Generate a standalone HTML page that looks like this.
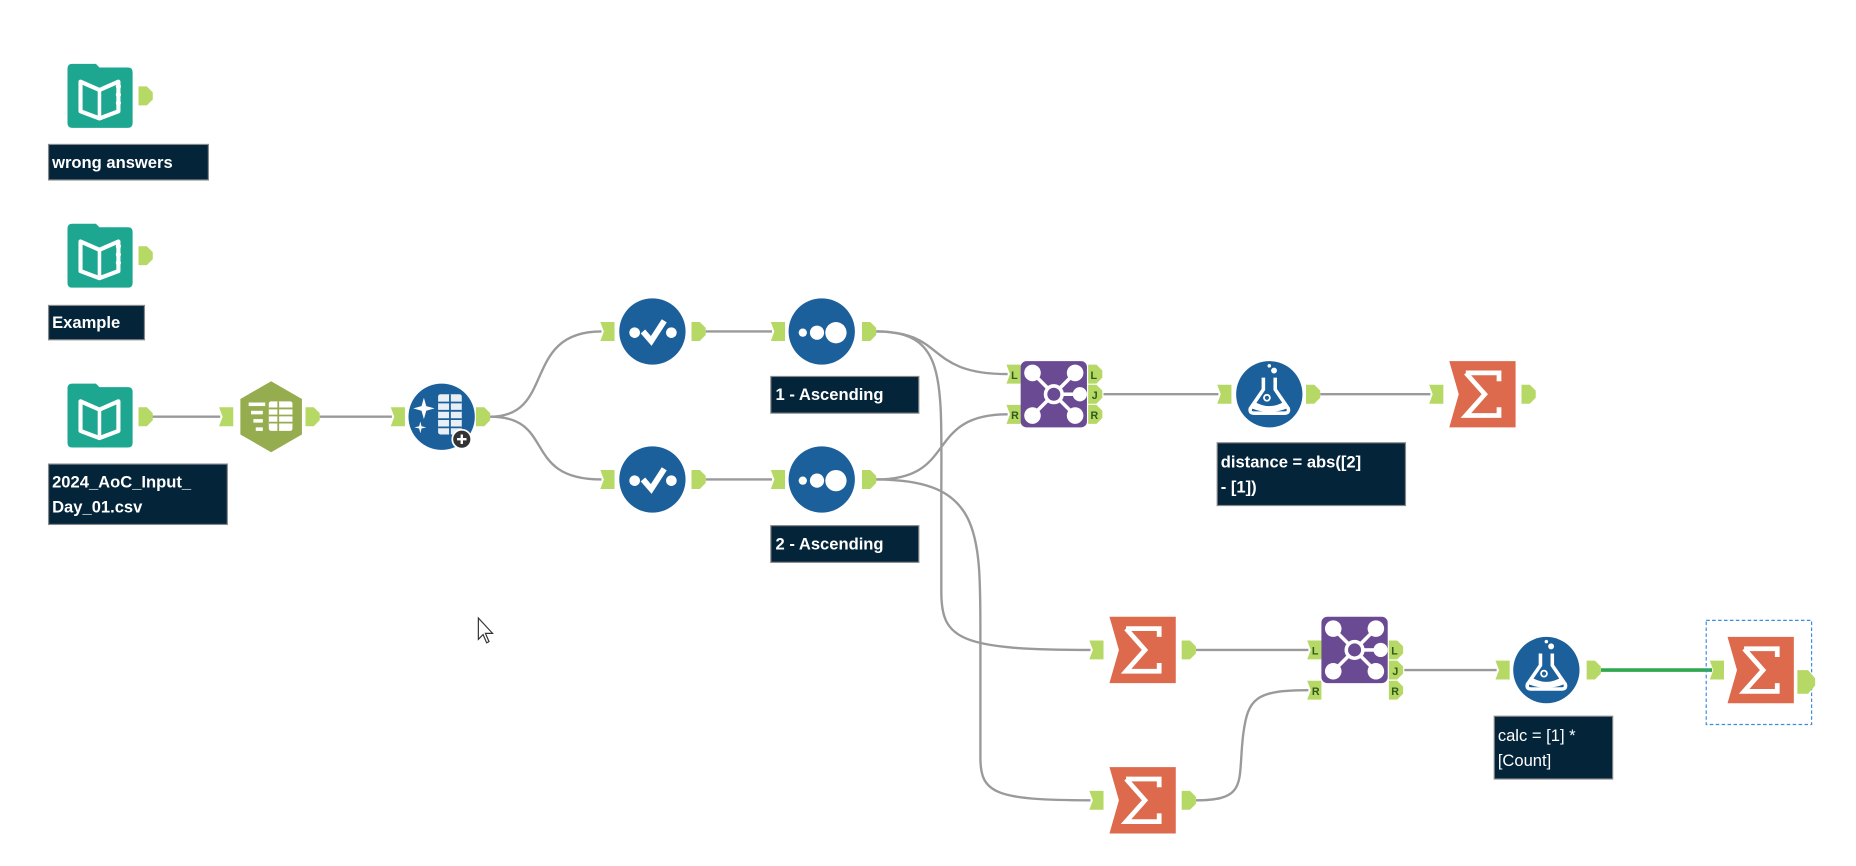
<!DOCTYPE html>
<html><head><meta charset="utf-8">
<style>
html,body{margin:0;padding:0;background:#fff;width:1856px;height:866px;overflow:hidden}
svg{display:block}
text{font-family:"Liberation Sans",sans-serif}
.lbl{font-weight:bold;font-size:14px;fill:#fff}
.an{font-weight:bold;font-size:9px;fill:#2e5a1a}
</style></head><body>
<svg width="1856" height="866" viewBox="0 0 1567.5 731.5" preserveAspectRatio="none" xmlns="http://www.w3.org/2000/svg">
<defs>
  <g id="ain"><path d="M0,-8 H12 V8 H0 L3,0 Z" fill="#b6d865"/></g>
  <g id="aout"><path d="M0,-8 H7 L12,-3 V3 L7,8 H0 Z" fill="#b6d865"/></g>
  <g id="book">
    <path d="M0,4 Q0,0 4,0 H24 L27,3 H51 Q55,3 55,7 V50 Q55,54 51,54 H4 Q0,54 0,50 Z" fill="#1ea790"/>
    <path d="M11,15 L27,22 L43,15 V40 L27,46 L11,40 Z" fill="none" stroke="#fff" stroke-width="3.5" stroke-linejoin="round"/>
    <line x1="27" y1="22" x2="27" y2="44" stroke="#fff" stroke-width="3"/>
  </g>
  <g id="sum">
    <path d="M0,0 H56 V56 H0 L8,28 Z" fill="#dd6a4c"/>
    <path d="M14,10 H42 V17 M14,10 L30,28 L14,46 H42 V39" fill="none" stroke="#fff" stroke-width="4"/>
  </g>
  <g id="join">
    <rect x="0" y="0" width="56" height="56" rx="5" fill="#6b4a94"/>
    <g stroke="#fff" stroke-width="3" fill="none">
      <circle cx="28" cy="28" r="7"/>
      <line x1="12" y1="12" x2="23" y2="23"/><line x1="44" y1="12" x2="33" y2="23"/>
      <line x1="12" y1="44" x2="23" y2="33"/><line x1="44" y1="44" x2="33" y2="33"/>
      <line x1="35" y1="28" x2="48" y2="28"/>
    </g>
    <g fill="#fff"><circle cx="10" cy="10" r="7"/><circle cx="46" cy="10" r="7"/><circle cx="10" cy="46" r="7"/><circle cx="46" cy="46" r="7"/><circle cx="50" cy="28" r="6"/></g>
  </g>
  <g id="flask">
    <circle cx="0" cy="0" r="28" fill="#1b5f9b"/>
    <path d="M-5,-14 V-4 L-16,12 Q-17,16 -13,16 H13 Q17,16 16,12 L5,-4 V-14" fill="none" stroke="#fff" stroke-width="3"/>
    <path d="M-13,6 Q0,14 13,6 L15,12 Q0,18 -15,12 Z" fill="#fff"/>
    <circle cx="-2" cy="3" r="2.5" fill="none" stroke="#fff" stroke-width="1.5"/>
    <circle cx="4" cy="-20" r="2.5" fill="#fff"/><circle cx="0" cy="-24" r="1.5" fill="#fff"/>
  </g>
  <g id="select">
    <circle cx="0" cy="0" r="28" fill="#1b5f9b"/>
    <circle cx="-15" cy="1" r="4.5" fill="#fff"/><circle cx="16" cy="1" r="4.5" fill="#fff"/>
    <path d="M-8,0 L-1,8 L10,-9" fill="none" stroke="#fff" stroke-width="5"/>
  </g>
  <g id="sort">
    <circle cx="0" cy="0" r="28" fill="#1b5f9b"/>
    <circle cx="-16" cy="1" r="3.5" fill="#fff"/><circle cx="-4" cy="1" r="6" fill="#fff"/><circle cx="12" cy="1" r="9" fill="#fff"/>
  </g>
</defs>

<g fill="none" stroke="#9a9a9a" stroke-width="2">
  <line x1="128" y1="352" x2="186" y2="352"/>
  <line x1="270" y1="352" x2="331" y2="352"/>
  <path d="M414,352 C470,352 440,280 508,280"/>
  <path d="M414,352 C470,352 440,405 508,405"/>
  <line x1="596" y1="280" x2="652" y2="280"/>
  <line x1="596" y1="405" x2="652" y2="405"/>
  <path d="M740,280 C800,280 780,316 851,316"/>
  <path d="M740,405 C810,405 780,350 851,350"/>
  <path d="M740,280 C800,280 795,320 795,420 L795,500 C795,540 810,549 921,549"/>
  <path d="M740,405 C830,405 828,450 828,540 L828,640 C828,670 840,676 921,676"/>
  <line x1="932" y1="333" x2="1029" y2="333"/>
  <line x1="1115" y1="333" x2="1208" y2="333"/>
  <line x1="1010" y1="549" x2="1105" y2="549"/>
  <path d="M1010,676 C1055,676 1045,660 1050,620 C1054,590 1060,583 1105,583"/>
  <line x1="1186" y1="566" x2="1264" y2="566"/>
</g>
<line x1="1352" y1="566" x2="1446" y2="566" stroke="#2fa84f" stroke-width="3"/>

<use href="#book" x="57" y="54"/><use href="#aout" x="117" y="81"/>
<use href="#book" x="57" y="189"/><use href="#aout" x="117" y="216"/>
<use href="#book" x="57" y="324"/><use href="#aout" x="117" y="352"/>
<g fill="#fff"><circle cx="100" cy="73" r="2.2"/><circle cx="100" cy="80" r="2.2"/><circle cx="100" cy="87" r="2.2"/>
<circle cx="100" cy="208" r="2.2"/><circle cx="100" cy="215" r="2.2"/><circle cx="100" cy="222" r="2.2"/></g>

<rect x="41" y="122" width="135" height="30" fill="#04243a" stroke="#888"/>
<text class="lbl" x="44" y="142">wrong answers</text>
<rect x="41" y="258" width="81" height="29" fill="#04243a" stroke="#888"/>
<text class="lbl" x="44" y="277">Example</text>
<rect x="41" y="392" width="151" height="51" fill="#04243a" stroke="#888"/>
<text class="lbl" x="44" y="412">2024_AoC_Input_</text>
<text class="lbl" x="44" y="433">Day_01.csv</text>

<use href="#ain" x="185" y="352"/>
<polygon points="229,322 255,337 255,367 229,382 203,367 203,337" fill="#96ad4f"/>
<g fill="#fff"><rect x="210" y="340" width="14" height="3"/><rect x="212" y="347" width="10" height="3"/><rect x="214" y="354" width="8" height="3"/><rect x="216" y="361" width="6" height="3"/>
<rect x="227" y="339" width="20" height="25" rx="2"/></g>
<g stroke="#96ad4f" stroke-width="1.5"><line x1="227" y1="345" x2="247" y2="345"/><line x1="227" y1="351" x2="247" y2="351"/><line x1="227" y1="357" x2="247" y2="357"/><line x1="235" y1="339" x2="235" y2="364"/></g>
<use href="#aout" x="258" y="352"/>

<use href="#ain" x="330" y="352"/>
<circle cx="373" cy="352" r="28" fill="#1b5f9b"/>
<g fill="#fff"><rect x="370" y="333" width="20" height="34" rx="2" opacity="0.9"/></g>
<g stroke="#1b5f9b" stroke-width="1.5"><line x1="370" y1="340" x2="390" y2="340"/><line x1="370" y1="347" x2="390" y2="347"/><line x1="370" y1="354" x2="390" y2="354"/><line x1="370" y1="361" x2="390" y2="361"/><line x1="380" y1="333" x2="380" y2="367"/></g>
<path d="M358,336 L360,343 L367,345 L360,347 L358,354 L356,347 L349,345 L356,343 Z" fill="#fff"/>
<path d="M355,356 L356,360 L360,361 L356,362 L355,366 L354,362 L350,361 L354,360 Z" fill="#fff"/>
<circle cx="390" cy="371" r="8" fill="#333" stroke="#fff" stroke-width="1.5"/>
<path d="M386,371 H394 M390,367 V375" stroke="#fff" stroke-width="2"/>
<use href="#aout" x="402" y="352"/>

<use href="#ain" x="507" y="280"/><use href="#select" x="551" y="280"/><use href="#aout" x="584" y="280"/>
<use href="#ain" x="507" y="405"/><use href="#select" x="551" y="405"/><use href="#aout" x="584" y="405"/>
<use href="#ain" x="651" y="280"/><use href="#sort" x="694" y="280"/><use href="#aout" x="728" y="280"/>
<use href="#ain" x="651" y="405"/><use href="#sort" x="694" y="405"/><use href="#aout" x="728" y="405"/>
<rect x="651" y="318" width="125" height="31" fill="#04243a" stroke="#888"/>
<text class="lbl" x="655" y="338">1 - Ascending</text>
<rect x="651" y="444" width="125" height="31" fill="#04243a" stroke="#888"/>
<text class="lbl" x="655" y="464">2 - Ascending</text>

<use href="#ain" x="850" y="316"/><use href="#ain" x="850" y="350"/>
<text class="an" x="854" y="320">L</text><text class="an" x="854" y="354">R</text>
<use href="#join" x="862" y="305"/>
<use href="#aout" x="919" y="316"/><use href="#aout" x="919" y="333"/><use href="#aout" x="919" y="350"/>
<text class="an" x="921" y="320">L</text><text class="an" x="922" y="337">J</text><text class="an" x="921" y="354">R</text>

<use href="#ain" x="1028" y="333"/><use href="#flask" x="1072" y="333"/><use href="#aout" x="1103" y="333"/>
<rect x="1028" y="374" width="159" height="53" fill="#04243a" stroke="#888"/>
<text class="lbl" x="1031" y="395">distance = abs([2]</text>
<text class="lbl" x="1031" y="416">- [1])</text>

<use href="#ain" x="1207" y="333"/><use href="#sum" x="1224" y="305"/><use href="#aout" x="1285" y="333"/>

<use href="#ain" x="920" y="549"/><use href="#sum" x="937" y="521"/><use href="#aout" x="998" y="549"/>
<use href="#ain" x="920" y="676"/><use href="#sum" x="937" y="648"/><use href="#aout" x="998" y="676"/>

<use href="#ain" x="1104" y="549"/><use href="#ain" x="1104" y="583"/>
<text class="an" x="1108" y="553">L</text><text class="an" x="1108" y="587">R</text>
<use href="#join" x="1116" y="521"/>
<use href="#aout" x="1173" y="549"/><use href="#aout" x="1173" y="566"/><use href="#aout" x="1173" y="583"/>
<text class="an" x="1175" y="553">L</text><text class="an" x="1176" y="570">J</text><text class="an" x="1175" y="587">R</text>

<use href="#ain" x="1263" y="566"/><use href="#flask" x="1306" y="566"/><use href="#aout" x="1340" y="566"/>
<rect x="1262" y="605" width="100" height="53" fill="#04243a" stroke="#888"/>
<text class="lbl" x="1265" y="626" style="font-weight:normal">calc = [1] *</text>
<text class="lbl" x="1265" y="647" style="font-weight:normal">[Count]</text>

<rect x="1441" y="524" width="89" height="88" fill="none" stroke="#3b8de0" stroke-width="1" stroke-dasharray="3,2"/>
<use href="#sum" x="1459" y="538"/>
<use href="#ain" x="1444" y="566"/>
<path d="M1518,-10 H1527 L1533,-3 V3 L1527,10 H1518 Z" transform="translate(0,576)" fill="#b6d865"/>

<path d="M404,522 L404,540 L408,536 L411,543 L413,542 L410,535 L416,535 Z" fill="#fff" stroke="#333" stroke-width="1"/>
</svg>
</body></html>
